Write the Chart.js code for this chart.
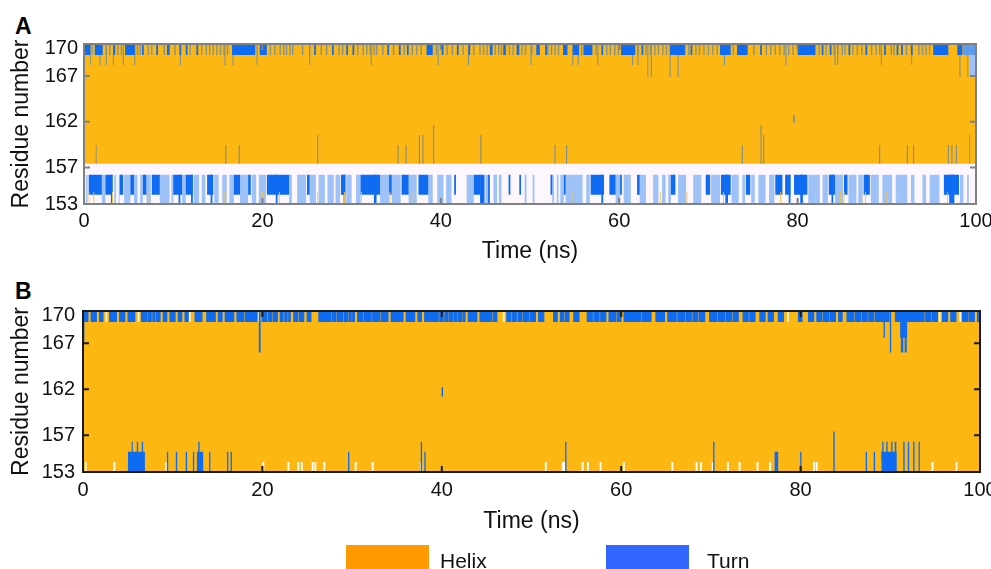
<!DOCTYPE html>
<html>
<head>
<meta charset="utf-8">
<title>Secondary structure vs time</title>
<script src="https://cdn.jsdelivr.net/npm/chart.js@4.4.1/dist/chart.umd.min.js"></script>
<style>
  body { margin: 0; background: #fff; width: 991px; height: 569px; overflow: hidden; position: relative; font-family: 'Liberation Sans', Arial, sans-serif; }
  canvas { position: absolute; left: 0; }
  #chartA { top: 0; }
  #chartB { top: 270px; }
  .panel { position: absolute; left: 15px; font-weight: bold; font-size: 23px; line-height: 23px; color: #000; }
  .key { position: absolute; top: 545px; width: 83px; height: 30px; }
  .keytxt { position: absolute; top: 549px; font-size: 21px; line-height: 24px; color: #111; }
</style>
</head>
<body>
<div class="panel" style="top:15px">A</div>
<div class="panel" style="top:280px">B</div>
<canvas id="chartA" width="991" height="270"></canvas>
<canvas id="chartB" width="991" height="299"></canvas>
<div class="key" style="left:346px;background:#ff9a00"></div>
<div class="keytxt" style="left:440px">Helix</div>
<div class="key" style="left:606px;background:#3366ff"></div>
<div class="keytxt" style="left:707px">Turn</div>
<script>
// axes
const timeTicks = [0, 20, 40, 60, 80, 100];
const residueTicks = [153, 157, 162, 167, 170];

// ---- panel A (residue ranges, then turn/helix frames in ns) ----
const aHelixRange = [157.4, 170.5];
const aLowBgRange = [153, 157.4];
const aTopRange = [169.3, 170.5];
const aLowRange = [153, 156.2];
const aLowDarkRange = [154.0, 156.2];
const aYellowRange = [153, 154.3];
const aLongEnds = [168.2, 166.9];
const aPatchRange = [166.9, 169.3];

const aTopTurn = [[0.1,0.7],[1.2,2.1],[3.3,3.5],[4.6,5.7],[6.5,6.7],[8.1,8.3],[9.3,9.6],[10.7,10.9],[11.4,11.6],[12.6,12.8],[16.6,19.2],[19.7,20.5],[25.8,26.0],[27.8,28.0],[29.4,29.6],[30.1,30.3],[34.0,34.2],[35.3,35.5],[36.2,36.4],[38.4,39.1],[40.1,40.3],[41.8,42.0],[43.1,43.3],[45.5,45.8],[47.0,47.3],[48.5,48.8],[50.7,51.1],[51.7,51.9],[53.7,54.2],[54.8,55.5],[56.0,57.0],[58.0,58.2],[60.2,61.8],[62.5,62.7],[65.7,67.4],[68.0,68.2],[71.3,72.5],[73.2,74.4],[75.8,76.0],[80.0,82.0],[82.7,82.9],[83.6,83.8],[85.7,85.9],[87.6,87.8],[89.7,89.9],[91.1,91.3],[91.6,91.8],[92.7,92.9],[95.2,96.9],[97.9,98.5]];
const aTopLight = [[98.5,100]];
const aTopMixed = [0.9,2.5,2.9,3.8,4.2,6.0,6.3,7.2,7.6,9.0,10.2,11.9,13.2,13.7,14.1,14.5,14.9,15.3,15.7,16.1,20.9,21.4,22.0,22.4,22.7,23.1,23.4,24.5,25.3,26.6,27.2,28.6,29.0,30.7,31.3,31.7,32.1,32.5,32.8,33.5,34.7,35.9,36.8,37.3,37.8,39.5,40.7,41.3,42.5,43.7,44.4,44.8,45.2,46.1,46.5,46.8,47.7,48.1,49.1,49.5,50.2,52.0,52.4,52.8,53.2,55.8,57.4,58.6,59.0,59.5,59.9,62.1,63.0,63.5,64.0,64.4,64.9,65.3,67.8,68.6,69.0,69.5,70.0,70.5,71.0,72.8,75.1,76.5,77.0,77.5,78.0,78.5,79.0,79.5,82.4,83.2,84.1,84.5,85.0,85.3,86.2,86.7,87.2,88.3,88.8,89.2,90.5,90.8,92.2,93.6,94.0,94.4,94.8];
const aTopLong = [0.7,1.8,2.5,3.3,4.4,5.7,10.8,15.8,16.7,19.4,25.3,32.2,39.7,43.1,50.1,54.8,55.4,57.6,61.5,62.1,71.8,78.7,84.2,84.5,89.4,92.8];
const aTopLonger = [63.2,63.6,65.7,66.6,98.2,99.1];
const aTopPatch = [[99.3,100]];
const aMidTurn = [[1.35,159.45],[15.9,159.45],[17.4,159.45],[26.2,160.55],[35.2,159.45],[36.1,159.45],[37.6,160.55],[38.0,160.55],[39.2,161.64],[44.5,160.55],[52.8,159.45],[54.1,159.45],[73.8,159.45],[75.9,161.64],[76.2,160.55],[89.2,159.45],[92.3,159.45],[93.0,159.45],[96.9,159.45],[97.3,159.45],[97.8,159.45],[99.3,160.55]];
const aMidIsolated = [[79.5,79.7]];
const aMidIsolatedRange = [161.86, 162.7];
const aLowTurn = [[0.5,2.0],[2.4,3.2],[4.0,4.4],[5.2,5.6],[6.6,7.0],[7.6,8.5],[10.0,11.0],[11.4,12.2],[13.8,14.5],[16.8,17.5],[18.4,18.7],[20.5,23.0],[25.0,25.3],[28.8,29.3],[31.0,33.2],[34.2,34.5],[35.6,36.4],[37.5,38.6],[41.5,41.7],[43.7,44.4],[47.6,47.8],[48.8,49.0],[52.3,52.5],[53.8,54.0],[56.8,58.3],[58.9,59.6],[60.1,60.3],[62.0,62.3],[65.8,66.3],[69.7,70.2],[71.4,72.5],[74.2,74.7],[77.5,78.3],[78.6,79.2],[79.6,81.1],[83.5,84.2],[85.2,85.6],[87.4,88.1],[96.4,98.1]];
const aLowTurnFull = [[3.0,3.2],[10.6,10.8],[12.0,12.2],[14.2,14.4],[21.5,21.7],[29.1,29.3],[32.5,32.8],[44.4,44.9],[45.3,45.5],[58.0,58.2],[71.9,72.2],[79.0,79.2],[80.3,80.6],[83.8,84.0],[97.0,97.6]];
const aLowLight = [[0.2,0.4],[2.0,2.4],[3.4,3.6],[3.9,4.0],[4.5,5.2],[5.6,6.0],[6.3,6.6],[7.0,7.5],[8.5,9.6],[9.8,10.0],[11.0,11.4],[12.3,12.9],[13.2,13.6],[14.6,15.1],[15.5,16.0],[16.3,16.8],[17.5,18.4],[18.8,19.3],[19.6,20.4],[23.0,23.3],[23.9,24.9],[25.3,26.0],[26.3,27.0],[27.3,28.0],[28.2,28.7],[29.4,30.0],[30.5,31.0],[33.2,34.2],[34.5,35.5],[36.4,37.3],[38.6,39.1],[39.6,40.3],[40.6,41.2],[42.9,43.7],[45.0,45.3],[45.9,46.3],[46.5,46.8],[49.4,49.6],[50.3,50.5],[52.5,52.7],[53.0,53.2],[53.4,53.8],[54.0,55.9],[56.3,56.7],[59.6,60.1],[60.5,61.3],[62.3,63.0],[63.8,64.4],[64.8,65.2],[65.5,65.8],[66.6,67.5],[68.3,69.2],[70.3,71.3],[72.6,73.4],[73.8,74.1],[74.8,75.2],[75.6,76.4],[76.8,77.4],[81.2,82.5],[82.8,83.4],[84.2,85.1],[85.7,86.6],[86.8,87.3],[88.2,89.1],[89.5,90.6],[91.0,92.3],[92.7,93.1],[94.0,94.4],[94.8,95.9],[98.2,98.6],[99.0,99.2]];
const aLowHelix = [0.54,1.1,3.2,7.3,15.7,20.0,21.9,26.2,29.2,31.1,34.3,36.9,46.6,54.7,64.6,67.6,71.7,78.1,82.0,84.8,85.2,87.2,87.6,90.0,91.2,96.8];

// ---- panel B ----
const bHelixRange = [153, 170.5];
const bTopRange = [169.3, 170.5];
const bLowWhiteRange = [153, 154.1];
const bMidRange = [161.2, 162.2];
const bTopTurn = [[0.1,0.61],[0.85,1.55],[1.78,2.29],[2.9,3.79],[4.02,4.72],[4.96,5.84],[6.45,7.16],[7.2,7.67],[7.72,8.07],[8.12,8.65],[8.88,9.4],[9.63,10.33],[10.56,11.07],[11.31,11.82],[12.43,13.32],[13.73,14.81],[15.03,15.57],[15.79,16.87],[17.1,17.97],[18.03,19.47],[19.91,20.57],[20.63,21.07],[21.12,21.73],[21.93,22.37],[22.43,22.82],[22.87,23.17],[23.43,23.97],[24.03,24.67],[24.93,25.47],[26.23,27.67],[27.71,28.27],[28.31,29.01],[29.06,29.57],[29.61,29.97],[30.0,30.32],[30.55,31.25],[31.3,32.19],[32.23,33.12],[33.17,34.06],[34.29,35.74],[35.97,37.04],[37.28,37.79],[38.03,39.67],[39.71,40.22],[40.27,40.77],[40.81,41.27],[41.31,41.77],[41.81,42.27],[42.31,42.65],[42.89,43.97],[44.2,45.64],[45.69,46.2],[47.18,47.77],[47.83,48.37],[48.43,49.01],[49.05,49.75],[49.8,50.5],[50.73,51.43],[52.41,52.93],[53.16,53.67],[53.72,54.24],[54.65,55.35],[56.15,56.85],[56.9,57.6],[57.65,58.35],[58.58,59.47],[59.52,60.03],[60.26,62.27],[62.32,63.39],[63.81,64.89],[65.13,66.2],[66.25,67.13],[67.18,67.88],[67.93,68.62],[68.67,69.37],[69.79,70.68],[70.73,71.61],[71.66,72.36],[72.41,73.11],[73.53,74.23],[74.28,74.98],[75.4,76.1],[76.33,77.03],[77.45,78.15],[79.7,80.22],[80.82,81.52],[81.75,82.45],[82.5,83.2],[83.24,83.94],[84.18,84.69],[85.11,86.0],[86.05,86.75],[86.8,87.5],[87.54,88.24],[88.29,89.36],[89.41,89.92],[90.51,93.83],[93.88,94.58],[94.63,95.33],[95.75,96.45],[96.68,97.38],[97.99,98.69],[98.73,99.43],[99.66,100]];
const bTopWhite = [2.6,6.2,11.9,19.6,46.9,78.6,95.5,97.8];
const bLong = [[0,0.15,167.1],[19.6,19.8,166.0],[89.25,89.4,167.6],[89.95,90.1,166.0],[91.1,91.9,167.6]];
const bLongDeep = [[91.15,91.45,166.0],[91.6,91.85,166.0]];
const bMidTurn = [[39.95,40.15]];
const bLowTurn = [[5.0,6.9,155.2],[9.35,9.5,155.2],[10.35,10.5,155.2],[11.45,11.6,155.2],[12.25,12.4,155.2],[12.7,13.4,155.2],[14.05,14.2,155.2],[16.05,16.2,155.2],[16.45,16.6,155.2],[29.55,29.7,155.2],[38.05,38.2,155.2],[77.1,77.5,155.2],[79.95,80.1,155.2],[87.25,87.4,155.2],[88.15,88.3,155.2],[89.0,90.7,155.2],[91.45,91.6,156.3],[91.95,92.1,156.3],[92.55,92.7,156.3],[93.15,93.3,156.3]];
const bLowTall = [[5.4,5.55,156.3],[6.0,6.15,156.3],[6.55,6.7,156.3],[12.85,13.0,156.3],[37.65,37.8,156.3],[53.75,53.9,156.3],[70.25,70.4,156.3],[83.65,83.8,157.4],[89.1,89.25,156.3],[89.55,89.7,156.3],[90.1,90.25,156.3],[90.5,90.7,156.3]];
const bLowWhite = [0.3,3.5,9.3,20.1,22.9,24.0,24.4,25.6,25.9,26.9,30.4,32.3,37.7,51.6,53.5,53.7,55.7,56.3,57.7,60.3,65.7,68.4,68.9,70.2,71.9,73.2,75.2,76.6,81.5,81.8,89.1,90.0,94.7,97.4];

// colours
const HELIX = '#fcb713';
const TURN = '#0f6cf2';
const LIGHT = '#9ec2f7';
const MIXED = '#87948c';

const FONT = "'Liberation Sans', Arial, sans-serif";

// rectangles as a step outline filled back to the base residue
function stepPath(spans, base, end) {
  const pts = [];
  spans.forEach(s => {
    const top = s.length > 2 ? s[2] : end;
    pts.push({x: s[0], y: base}, {x: s[0], y: top}, {x: s[1], y: top}, {x: s[1], y: base});
  });
  return pts;
}
function thin(times, w) {
  return times.map(t => [t - w / 2, t + w / 2]);
}
function thinTo(list, w) {
  return list.map(([t, e]) => [t - w / 2, t + w / 2, e]);
}
function layer(spans, range, color, order) {
  return {
    type: 'line',
    data: stepPath(spans, range[0], range[1]),
    fill: {value: range[0]},
    backgroundColor: color,
    borderColor: 'rgba(0,0,0,0)',
    borderWidth: 0,
    borderDash: [4, 0],
    pointRadius: 0,
    pointHoverRadius: 0,
    tension: 0,
    order: order
  };
}

const framePlugin = {
  id: 'frame',
  afterDatasetsDraw(chart, args, opts) {
    const {ctx, chartArea: a, scales} = chart;
    ctx.save();
    ctx.strokeStyle = opts.color;
    ctx.lineWidth = opts.width;
    ctx.beginPath();
    timeTicks.slice(1, -1).forEach(v => {
      const x = scales.x.getPixelForValue(v);
      ctx.moveTo(x, a.top); ctx.lineTo(x, a.top + 6);
      ctx.moveTo(x, a.bottom); ctx.lineTo(x, a.bottom - 6);
    });
    residueTicks.slice(1, -1).forEach(v => {
      const y = scales.y.getPixelForValue(v);
      ctx.moveTo(a.left, y); ctx.lineTo(a.left + 6, y);
      ctx.moveTo(a.right, y); ctx.lineTo(a.right - 6, y);
    });
    ctx.stroke();
    ctx.strokeRect(a.left, a.top, a.right - a.left, a.bottom - a.top);
    ctx.restore();
  }
};

function makePanel(id, datasets, p) {
  new Chart(document.getElementById(id), {
    type: 'line',
    data: {datasets: datasets},
    plugins: [framePlugin],
    options: {
      responsive: false,
      animation: false,
      events: [],
      layout: {autoPadding: false, padding: p.padding},
      plugins: {
        legend: {display: false},
        tooltip: {enabled: false},
        frame: {color: p.frameColor, width: p.frameWidth}
      },
      scales: {
        x: {
          type: 'linear', min: 0, max: 100,
          afterBuildTicks: s => { s.ticks = timeTicks.map(v => ({value: v})); },
          afterFit: s => { s.height = p.xHeight; s.paddingLeft = 0; s.paddingRight = 0; },
          grid: {display: false, drawTicks: false},
          border: {display: false},
          ticks: {padding: p.xPad, color: '#111', maxRotation: 0, font: {family: FONT, size: 20}},
          title: {display: true, text: 'Time (ns)', color: '#111', padding: {top: 0, bottom: 4}, font: {family: FONT, size: 23}}
        },
        y: {
          type: 'linear', min: 153, max: 170.5,
          afterBuildTicks: s => { s.ticks = residueTicks.map(v => ({value: v})); },
          afterFit: s => { s.width = p.yWidth; s.paddingTop = 0; s.paddingBottom = 0; },
          grid: {display: false, drawTicks: false},
          border: {display: false},
          ticks: {padding: p.yPad, color: '#111', font: {family: FONT, size: 20}},
          title: {display: true, text: 'Residue number', color: '#111', padding: {top: 8, bottom: 0}, font: {family: FONT, size: 23}}
        }
      }
    }
  });
}

const W = 0.16;

makePanel('chartA', [
  layer([[0, 100]], aLowBgRange, '#fdf6fc', 30),
  layer([[0, 100]], aHelixRange, HELIX, 29),
  layer(aLowLight, aLowRange, LIGHT, 20),
  layer(aLowTurn, aLowDarkRange, TURN, 19),
  layer(aLowTurnFull, aLowRange, TURN, 18),
  layer(thin(aLowHelix, 0.1), aYellowRange, '#f6c445', 17),
  layer(thin(aTopMixed, W), aTopRange, MIXED, 16),
  layer(thin(aTopLong, 0.12), [aLongEnds[0], 170.5], '#7e8f92', 15),
  layer(thin(aTopLonger, 0.12), [aLongEnds[1], 170.5], '#7e8f92', 15),
  layer(thinTo(aMidTurn, 0.12), [aHelixRange[0], 159.45], '#7b8c93', 14),
  layer(aMidIsolated, aMidIsolatedRange, '#7b8c93', 14),
  layer(aTopTurn, aTopRange, TURN, 12),
  layer(aTopLight, aTopRange, '#5f9cf0', 11),
  layer(aTopPatch, aPatchRange, LIGHT, 11)
], {padding: {left: 0, top: 44, right: 15, bottom: 1}, xHeight: 65, yWidth: 84, xPad: 5, yPad: 6, frameColor: '#808080', frameWidth: 2});

makePanel('chartB', [
  layer([[0, 100]], bHelixRange, HELIX, 30),
  layer(bTopTurn, bTopRange, TURN, 20),
  layer(thin(bTopWhite, 0.2), bTopRange, '#fff6e0', 19),
  layer(bLong, [170.5, 167.6], TURN, 18),
  layer(bLongDeep, [170.5, 166.0], TURN, 18),
  layer(bMidTurn, bMidRange, TURN, 17),
  layer(thin(bLowWhite, 0.22), bLowWhiteRange, '#fffbee', 16),
  layer(bLowTurn, [153, 155.2], TURN, 15),
  layer(bLowTall, [153, 156.3], TURN, 14)
], {padding: {left: 0, top: 41, right: 11, bottom: 30}, xHeight: 67, yWidth: 83, xPad: 6, yPad: 8, frameColor: '#1a1a1a', frameWidth: 2});
</script>
</body>
</html>
